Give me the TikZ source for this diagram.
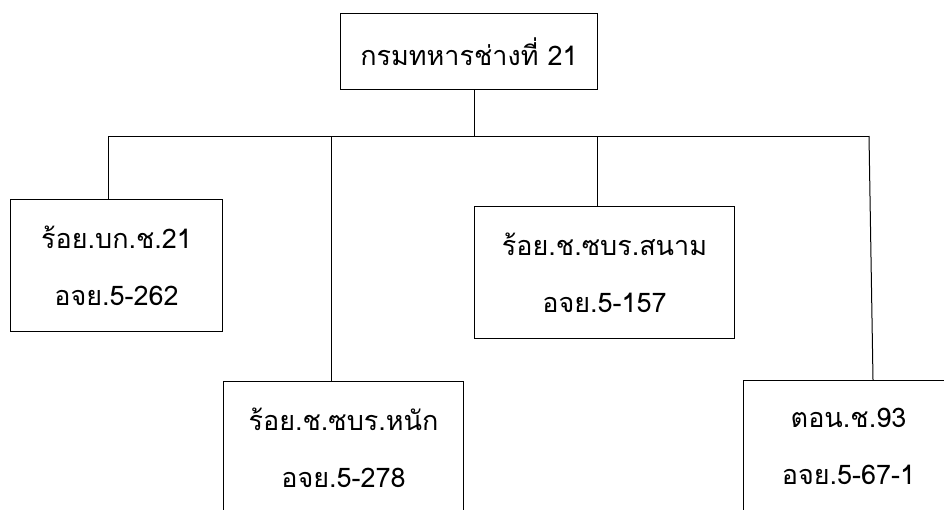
\documentclass[tikz,border=0pt]{standalone}
\usepackage{fontspec}
\setmainfont[Script=Thai]{Loma}
\usepackage{tikz}

\begin{document}
\begin{tikzpicture}[x=1pt,y=-1pt,line width=1pt,
		unit/.style={draw, align=center, minimum height=132pt, inner sep=0pt, anchor=north west,
			font=\fontsize{27}{57}\selectfont}]
		\clip (0,0) rectangle (944,509);
		
		\node[unit, minimum width=257pt, minimum height=76pt] (hq) at (340,13) {กรมทหารช่างที่ 21};
		
		\node[unit, minimum width=212pt] (bk) at (10,199) {ร้อย.บก.ช.21\\อจย.5-262};
		\node[unit, minimum width=240pt] (heavy) at (223,381) {ร้อย.ช.ซบร.หนัก\\อจย.5-278};
		\node[unit, minimum width=260pt] (field) at (474,206) {ร้อย.ช.ซบร.สนาม\\อจย.5-157};
		\node[unit, minimum width=210pt] (ton) at (743,380) {ตอน.ช.93\\อจย.5-67-1};
		
		\coordinate (busL) at (108,136);
		\coordinate (busR) at (869,136);
		\draw ([xshift=134pt]hq.south west) -- ([xshift=134pt]hq.south west |- busL);
		\draw (busL) -- (busR);
		
		\draw (busL) -- (busL |- bk.north);
		\draw (331,136) coordinate (d2) -- (d2 |- heavy.north);
		\draw (597,136) coordinate (d3) -- (d3 |- field.north);
		\draw (busR) -- ([xshift=130pt]ton.north west);
	\end{tikzpicture}
\end{document}
